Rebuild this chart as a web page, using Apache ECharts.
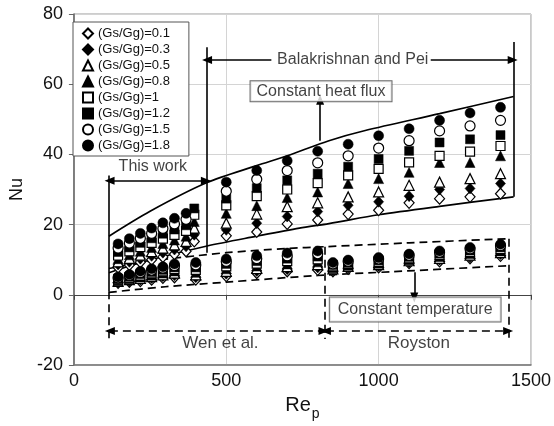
<!DOCTYPE html>
<html>
<head>
<meta charset="utf-8">
<script src="https://cdn.jsdelivr.net/npm/echarts@6/dist/echarts.min.js"></script>
<style>
  html, body { margin: 0; padding: 0; background: #fff; }
  #chart { width: 554px; height: 426px; }
</style>
</head>
<body>
<div id="chart"></div>
<script>
// Solid-to-gas mass flux ratios, one marker series each
const ratioNames = ['(Gs/Gg)=0.1', '(Gs/Gg)=0.3', '(Gs/Gg)=0.5', '(Gs/Gg)=0.8',
                    '(Gs/Gg)=1', '(Gs/Gg)=1.2', '(Gs/Gg)=1.5', '(Gs/Gg)=1.8'];

// Particle Reynolds numbers of each data group
const reFluxThisWork = [145, 182, 218, 255, 292, 330, 368, 395];
const reBalakrishnan = [500, 600, 700, 800, 900, 1000, 1100, 1200, 1300, 1400];
const reTempThisWork = [145, 182, 218, 255, 292, 330];
const reWen = [400, 500, 600, 700, 800];
const reRoyston = [850, 900, 1000, 1100, 1200, 1300, 1400];

// Nusselt numbers, constant heat flux (rows follow ratioNames)
const nuFluxThisWork = [
  [7.8, 8.5, 9.3, 10.0, 10.8, 11.6, 12.4, 15.2],
  [8.6, 9.4, 10.3, 11.1, 12.0, 12.9, 13.8, 17.1],
  [9.4, 10.4, 11.3, 12.3, 13.3, 14.2, 15.2, 19.0],
  [10.3, 11.4, 12.4, 13.5, 14.6, 15.6, 16.7, 20.9],
  [11.2, 12.4, 13.6, 14.8, 16.0, 17.1, 18.2, 22.8],
  [12.2, 13.5, 14.8, 16.1, 17.4, 18.6, 19.8, 24.6],
  [13.3, 14.7, 16.1, 17.5, 18.9, 20.2, 21.5, null],
  [14.5, 16.0, 17.5, 19.0, 20.5, 21.8, 23.2, null]
];
const nuFluxBalakrishnan = [
  [16.8, 17.9, 20.2, 21.3, 23.0, 24.1, 26.2, 27.4, 27.9, 28.8],
  [18.5, 20.4, 22.3, 23.7, 25.5, 26.5, 28.1, 30.0, 30.3, 31.7],
  [20.4, 23.0, 25.1, 26.2, 27.9, 29.3, 31.2, 32.1, 33.1, 34.5],
  [23.2, 25.4, 27.7, 29.3, 31.7, 33.1, 34.9, 37.7, 37.7, 39.6],
  [25.5, 28.1, 30.0, 31.8, 34.0, 35.9, 37.7, 39.6, 40.8, 42.4],
  [27.4, 30.4, 32.6, 34.5, 36.5, 38.7, 41.0, 43.4, 44.3, 45.5],
  [29.5, 32.9, 35.4, 37.6, 39.6, 41.8, 43.9, 46.7, 48.1, 49.7],
  [32.1, 35.4, 38.2, 40.9, 42.9, 45.3, 47.3, 49.7, 51.8, 53.4]
];

// Nusselt numbers, constant wall temperature (rows follow ratioNames)
const nuTempThisWork = [
  [3.4, 3.7, 3.9, 4.3, 4.8, 5.0],
  [3.6, 4.0, 4.3, 4.8, 5.3, 5.6],
  [3.8, 4.3, 4.7, 5.2, 5.7, 6.2],
  [4.0, 4.6, 5.1, 5.6, 6.2, 6.8],
  [4.3, 4.9, 5.5, 6.1, 6.7, 7.3],
  [4.5, 5.2, 5.9, 6.5, 7.1, 7.8],
  [4.8, 5.5, 6.3, 7.0, 7.6, 8.3],
  [5.1, 5.8, 6.7, 7.4, 8.0, 8.8]
];
const nuTempWen = [
  [4.3, 5.3, 6.2, 6.7, 7.1],
  [5.0, 6.0, 6.8, 7.3, 7.8],
  [5.7, 6.7, 7.5, 8.0, 8.6],
  [6.4, 7.4, 8.2, 8.8, 9.4],
  [7.1, 8.1, 8.9, 9.6, 10.1],
  [7.8, 8.8, 9.6, 10.3, 10.9],
  [8.5, 9.5, 10.3, 11.1, 11.7],
  [9.2, 10.2, 11.1, 11.9, 12.5]
];
const nuTempRoyston = [
  [6.7, 7.4, 7.8, 9.0, 9.5, 10.4, 11.1],
  [7.0, 7.7, 8.2, 9.3, 10.0, 10.8, 11.6],
  [7.4, 8.1, 8.6, 9.7, 10.4, 11.3, 12.0],
  [7.7, 8.4, 9.0, 10.0, 10.9, 11.8, 12.5],
  [8.1, 8.8, 9.4, 10.4, 11.3, 12.2, 13.0],
  [8.5, 9.1, 9.8, 10.8, 11.7, 12.6, 13.5],
  [8.8, 9.5, 10.2, 11.2, 12.1, 13.1, 14.0],
  [9.2, 9.9, 10.6, 11.6, 12.5, 13.5, 14.4]
];

// Envelope curves of the correlations
const fluxUpperRe = [115, 250, 435, 600, 700, 837, 956, 1200, 1443];
const fluxUpperNu = [16.7, 23.8, 31.9, 36.8, 39.6, 43.9, 46.8, 51.6, 56.5];
const fluxLowerRe = [115, 250, 437, 600, 740, 837, 1000, 1200, 1443];
const fluxLowerNu = [6.3, 9.9, 13.9, 16.7, 19.0, 20.3, 22.8, 25.2, 27.9];
const tempUpperRe = [115, 250, 400, 500, 700, 823, 1100, 1428];
const tempUpperNu = [7.5, 9.6, 11.1, 12.0, 13.2, 13.7, 14.8, 16.0];
const tempLowerRe = [115, 300, 500, 800, 1050, 1428];
const tempLowerNu = [0.7, 2.3, 3.6, 5.5, 6.6, 8.3];

// Axis ticks
const xTicks = { min: 0, max: 1500, step: 500 };
const yTicks = { min: -20, max: 80, step: 20 };

// Marker look per ratio
const markerShapes = ['diamond', 'diamond', 'triangle', 'triangle', 'rect', 'rect', 'circle', 'circle'];
const markerFilled = [false, true, false, true, false, true, false, true];
const markerSizes = [[10, 11], [10, 11], 10, 10, 9, 9, 10, 10];

const FONT = '"Liberation Sans", Arial, Helvetica, sans-serif';
const INK = '#000';

function pairs(xs, ys) {
  return xs.map((x, i) => [x, ys[i]]).filter(p => p[1] != null);
}

const markerSeries = ratioNames.map((name, i) => ({
  type: 'scatter',
  name: name,
  symbol: markerShapes[i],
  symbolSize: markerSizes[i],
  itemStyle: {
    color: markerFilled[i] ? INK : '#fff',
    borderColor: INK,
    borderWidth: markerFilled[i] ? 0.5 : 1.2,
    opacity: 1
  },
  data: [].concat(
    pairs(reFluxThisWork, nuFluxThisWork[i]),
    pairs(reBalakrishnan, nuFluxBalakrishnan[i]),
    pairs(reTempThisWork, nuTempThisWork[i]),
    pairs(reWen, nuTempWen[i]),
    pairs(reRoyston, nuTempRoyston[i])
  ),
  z: 4,
  silent: true,
  animation: false
}));

function curve(xs, ys, dashed, marks) {
  const s = {
    type: 'line',
    data: pairs(xs, ys),
    symbol: 'none',
    smooth: 0.3,
    lineStyle: { color: INK, width: 1.7, type: dashed ? [8, 5] : 'solid' },
    z: 3,
    silent: true,
    animation: false
  };
  if (marks) {
    s.markLine = {
      silent: true,
      animation: false,
      symbol: 'none',
      symbolSize: [8, 10],
      label: { show: false },
      lineStyle: { color: INK, width: 1.6, type: dashed ? [8, 5] : 'solid' },
      data: marks
    };
  }
  return s;
}

function seg(x1, y1, x2, y2, head1, head2) {
  return [
    { coord: [x1, y1], symbol: head1 ? 'triangle' : 'none' },
    { coord: [x2, y2], symbol: head2 ? 'triangle' : 'none' }
  ];
}

// Solid brackets and arrows
const solidMarks = [
  seg(115, 1, 115, 34, false, false),
  seg(435, 12, 435, 70.5, false, false),
  seg(1443, 27.9, 1443, 72, false, false),
  seg(117, 32.5, 433, 32.5, true, true),
  seg(648, 66.9, 437, 66.9, false, true),
  seg(1171, 66.9, 1440, 66.9, false, true),
  seg(808, 43.9, 808, 55.6, false, true),
  seg(1117, 6.4, 1117, -0.8, false, true)
];
// Dashed brackets and arrows
const dashedMarks = [
  seg(115, 1, 115, -12.6, false, false),
  seg(823, 13.7, 823, -12.6, false, false),
  seg(1428, 16.0, 1428, -12.6, false, false),
  seg(118, -10.3, 819, -10.3, true, true),
  seg(827, -10.3, 1425, -10.3, true, true)
];

const plainText = { fontFamily: FONT, fontSize: 16, color: '#111' };
const boxedText = Object.assign({}, plainText, {
  backgroundColor: '#fff', borderColor: '#444', borderWidth: 1, lineHeight: 18
});

const annotationSeries = {
  type: 'scatter',
  symbolSize: 1,
  itemStyle: { color: 'rgba(0,0,0,0)' },
  silent: true,
  animation: false,
  z: 6,
  label: { show: true, position: 'inside' },
  data: [
    { value: [259, 36.4], label: Object.assign({ formatter: 'This work' }, plainText) },
    { value: [915, 66.9], label: Object.assign({ formatter: 'Balakrishnan and Pei' }, plainText) },
    { value: [811, 58.0], label: Object.assign({ formatter: 'Constant heat flux', padding: [1, 6, 1, 6] }, boxedText) },
    { value: [1120, -4.2], label: Object.assign({ formatter: 'Constant temperature', padding: [3, 8, 3, 8] }, boxedText) },
    { value: [481, -13.8], label: Object.assign({ formatter: 'Wen et al.' }, plainText, { fontSize: 17 }) },
    { value: [1132, -13.8], label: Object.assign({ formatter: 'Royston' }, plainText, { fontSize: 17 }) }
  ]
};

const chart = echarts.init(document.getElementById('chart'), null, { renderer: 'canvas' });

chart.setOption({
  animation: false,
  backgroundColor: '#fff',
  textStyle: { fontFamily: FONT },
  grid: {
    left: 72, right: 20, top: 14, bottom: 60,
    show: true, borderColor: '#9a9a9a', borderWidth: 1, backgroundColor: '#fff'
  },
  legend: {
    data: ratioNames,
    orient: 'vertical',
    left: 73,
    top: 22,
    itemWidth: 10,
    itemHeight: 10,
    itemGap: 1,
    padding: [4, 19, 3, 9],
    backgroundColor: '#fff',
    borderColor: '#555',
    borderWidth: 1,
    selectedMode: false,
    textStyle: { fontFamily: FONT, fontSize: 13, color: '#111', lineHeight: 15 }
  },
  xAxis: [
    {
      type: 'value',
      min: xTicks.min, max: xTicks.max, interval: xTicks.step,
      position: 'bottom',
      name: '{a|Re}{b|p}',
      nameLocation: 'middle',
      nameGap: 30,
      nameTextStyle: {
        rich: {
          a: { fontFamily: FONT, fontSize: 20, color: '#111', lineHeight: 22, verticalAlign: 'top' },
          b: { fontFamily: FONT, fontSize: 14, color: '#111', lineHeight: 14, verticalAlign: 'top', padding: [12, 0, 0, 1] }
        }
      },
      axisLine: { onZero: false, lineStyle: { color: '#777', width: 1.5 } },
      axisTick: { show: false },
      axisLabel: { fontFamily: FONT, fontSize: 18, color: '#111', margin: 7, formatter: v => String(v) },
      splitLine: { show: true, lineStyle: { color: '#d4d4d4', width: 1 } }
    },
    {
      type: 'value',
      min: xTicks.min, max: xTicks.max, interval: xTicks.step,
      position: 'top',
      axisLine: { onZero: true, lineStyle: { color: '#444', width: 1.2 } },
      axisTick: { show: true, inside: true, length: 5, lineStyle: { color: '#444' } },
      axisLabel: { show: false },
      splitLine: { show: false }
    }
  ],
  yAxis: {
    type: 'value',
    min: yTicks.min, max: yTicks.max, interval: yTicks.step,
    name: 'Nu',
    nameLocation: 'middle',
    nameGap: 47,
    nameTextStyle: { fontFamily: FONT, fontSize: 18, color: '#111' },
    axisLine: { show: true, onZero: false, lineStyle: { color: '#666', width: 1.5 } },
    axisTick: { show: true, length: 5, lineStyle: { color: '#666' } },
    axisLabel: { fontFamily: FONT, fontSize: 18, color: '#111', margin: 11 },
    splitLine: { show: true, lineStyle: { color: '#d4d4d4', width: 1 } }
  },
  series: [
    curve(fluxUpperRe, fluxUpperNu, false, solidMarks),
    curve(fluxLowerRe, fluxLowerNu, false),
    curve(tempUpperRe, tempUpperNu, true, dashedMarks),
    curve(tempLowerRe, tempLowerNu, true)
  ].concat(markerSeries, [annotationSeries])
});
</script>
</body>
</html>
